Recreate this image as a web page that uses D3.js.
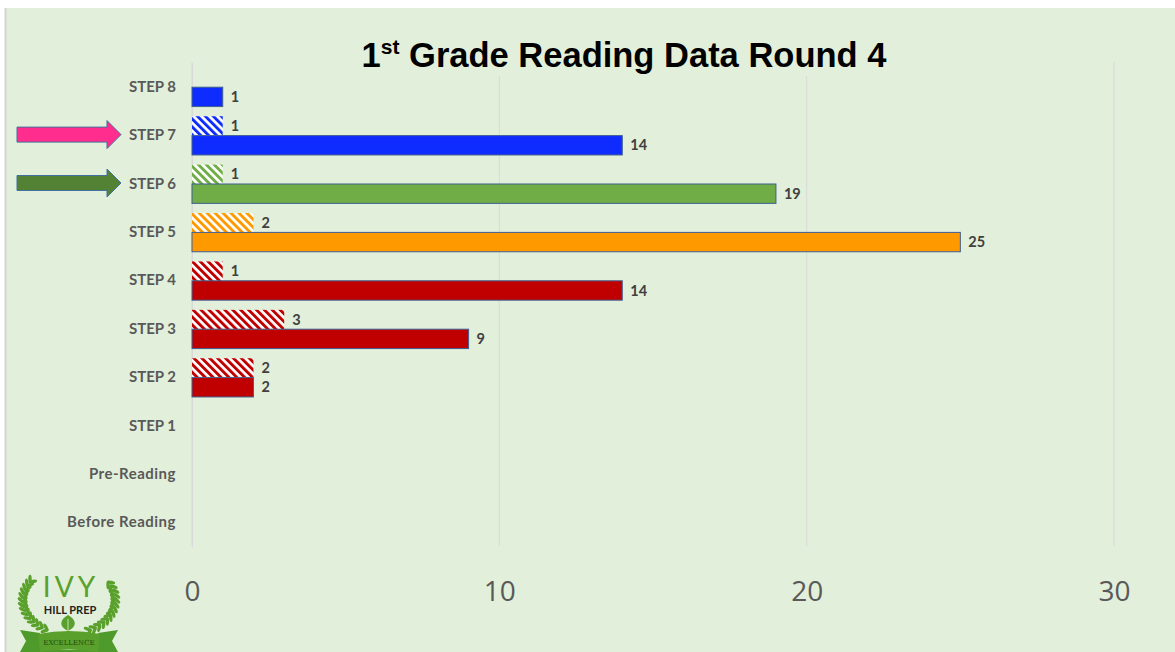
<!DOCTYPE html>
<html><head><meta charset="utf-8">
<script src="https://cdn.jsdelivr.net/npm/d3@7"></script>
<style>html,body{margin:0;padding:0;background:#fff;}svg{display:block;}</style>
</head><body>
<script>
const categories = ["STEP 8","STEP 7","STEP 6","STEP 5","STEP 4","STEP 3","STEP 2","STEP 1","Pre-Reading","Before Reading"];
const round4Values = [1,14,19,25,14,9,2,0,0,0];
const priorValues = [0,1,1,2,1,3,2,0,0,0];
const categoryColors = ["#0f2cff","#0f2cff","#70ad47","#ff9900","#c00000","#c00000","#c00000","#c00000","#c00000","#c00000"];
const xTicks = [0,10,20,30];
const arrowMarks = [{cat:"STEP 7", color:"#ff2e8e"},{cat:"STEP 6", color:"#548235"}];

const W = 1175, H = 652;
const svg = d3.select("body").append("svg").attr("width",W).attr("height",H);
const defs = svg.append("defs");

// background
svg.append("rect").attr("x",0).attr("y",0).attr("width",W).attr("height",H).attr("fill","#ffffff");
svg.append("rect").attr("x",5).attr("y",8).attr("width",W-5).attr("height",H-8).attr("fill","#e2efda");
svg.append("line").attr("x1",5.5).attr("x2",5.5).attr("y1",8).attr("y2",H).attr("stroke","#d4d4d4").attr("stroke-width",2);

const x = d3.scaleLinear().domain([0,30]).range([192,1114]);
const y = d3.scaleBand().domain(categories).range([63,547]);
const sub = d3.scaleBand().domain(["prior","round4"]).range([0,y.bandwidth()]).paddingInner(0).paddingOuter(0.25);

// hatch patterns
const uniqueColors = Array.from(new Set(categoryColors));
uniqueColors.forEach((c,i)=>{
  const p = defs.append("pattern").attr("id","hatch"+i).attr("patternUnits","userSpaceOnUse")
    .attr("width",5.6).attr("height",5.6).attr("patternTransform","rotate(-45)");
  p.append("rect").attr("width",5.6).attr("height",5.6).attr("fill","#ffffff");
  p.append("rect").attr("width",2.9).attr("height",5.6).attr("fill",c);
});
const hatchId = c => "url(#hatch"+uniqueColors.indexOf(c)+")";

// gridlines
const grid = svg.append("g");
grid.selectAll("line").data(xTicks).join("line")
  .attr("x1",d=>x(d)).attr("x2",d=>x(d)).attr("y1",62).attr("y2",546)
  .attr("stroke","#d9d9d9").attr("stroke-width",1);

// title (with background box)
svg.append("rect").attr("x",340).attr("y",34).attr("width",570).attr("height",42).attr("fill","#e2efda");
const title = svg.append("text").attr("x",624).attr("y",67).attr("text-anchor","middle")
  .attr("font-family","'Liberation Sans', Arial, sans-serif").attr("font-weight","bold").attr("font-size",34.5).attr("fill","#000");
title.append("tspan").text("1");
title.append("tspan").attr("font-size",21).attr("dy",-13).text("st");
title.append("tspan").attr("dy",13).text(" Grade Reading Data Round 4");

// x axis tick labels
const xAxis = d3.axisBottom(x).tickValues(xTicks).tickSize(0).tickFormat(d3.format("d"));
const gx = svg.append("g").attr("transform","translate(0,578)").call(xAxis);
gx.select(".domain").remove();
gx.selectAll("text").attr("font-family","'Open Sans', Lato, sans-serif").attr("font-size",28).attr("fill","#595959").attr("dy","0.71em");

// y axis labels
const yAxis = d3.axisLeft(y).tickSize(0).tickPadding(16);
const gy = svg.append("g").attr("transform","translate(192,0)").call(yAxis);
gy.select(".domain").attr("stroke","#d9d9d9");
gy.selectAll("text").attr("font-family","Lato, 'Open Sans', sans-serif").attr("font-weight","bold").attr("font-size",15).attr("fill","#595959").attr("dy","0.3em")
  .attr("letter-spacing",d=>d.length>8 ? "0.5px" : "0px");

// data rows
const rows = categories.map((c,i)=>({cat:c, cur:round4Values[i], prior:priorValues[i], color:categoryColors[i]}));
const bars = svg.append("g");
bars.selectAll("rect.prior").data(rows.filter(d=>d.prior>0)).join("rect").attr("class","prior")
  .attr("x",x(0)).attr("y",d=>y(d.cat)+sub("prior")).attr("width",d=>x(d.prior)-x(0)).attr("height",sub.bandwidth())
  .attr("fill",d=>hatchId(d.color));
bars.selectAll("rect.cur").data(rows.filter(d=>d.cur>0)).join("rect").attr("class","cur")
  .attr("x",x(0)).attr("y",d=>y(d.cat)+sub("round4")).attr("width",d=>x(d.cur)-x(0)).attr("height",sub.bandwidth())
  .attr("fill",d=>d.color).attr("stroke","#3f5f8f").attr("stroke-width",1);

const lab = svg.append("g").attr("font-family","Lato, 'Open Sans', sans-serif").attr("font-weight","bold").attr("font-size",14.5).attr("fill","#404040");
lab.selectAll("text.prior").data(rows.filter(d=>d.prior>0)).join("text").attr("class","prior")
  .attr("x",d=>x(d.prior)+8).attr("y",d=>y(d.cat)+sub("prior")+sub.bandwidth()/2).attr("dy","0.35em").text(d=>d.prior);
lab.selectAll("text.cur").data(rows.filter(d=>d.cur>0)).join("text").attr("class","cur")
  .attr("x",d=>x(d.cur)+8).attr("y",d=>y(d.cat)+sub("round4")+sub.bandwidth()/2).attr("dy","0.35em").text(d=>d.cur);

// arrows
arrowMarks.forEach(a=>{
  const cy = y(a.cat)+y.bandwidth()/2 - 1;
  const x0=17, xh=107, xt=121, bh=7.5, hh=14;
  const pts = [[x0,cy-bh],[xh,cy-bh],[xh,cy-hh],[xt,cy],[xh,cy+hh],[xh,cy+bh],[x0,cy+bh]];
  svg.append("polygon").attr("points",pts.map(p=>p.join(",")).join(" "))
    .attr("fill",a.color).attr("stroke","#41719c").attr("stroke-width",1);
});

// logo
const green = "#5aa02c";
const logo = svg.append("g");
const cx = 69, cyL = 600, rx = 46, ry = 34;
[[212,118],[-32,62]].forEach(([t0,t1])=>{
  const n = 14;
  for (let k=0;k<n;k++){
    const t = (t0 + (t1-t0)*k/(n-1)) * Math.PI/180;
    const px = cx + rx*Math.cos(t), py = cyL + ry*Math.sin(t);
    const tang = Math.atan2(ry*Math.cos(t), -rx*Math.sin(t)) * 180/Math.PI;
    [-1,1].forEach(s=>{
      logo.append("ellipse").attr("cx",px).attr("cy",py).attr("rx",4.2).attr("ry",1.7).attr("fill",green)
        .attr("transform",`rotate(${tang + s*40},${px},${py}) translate(3,0)`);
    });
  }
});
logo.append("text").attr("x",71).attr("y",597).attr("text-anchor","middle").attr("font-family","Lato,'Open Sans',sans-serif")
  .attr("font-size",28).attr("letter-spacing","4px").attr("fill",green).text("IVY");
logo.append("text").attr("x",70).attr("y",614).attr("text-anchor","middle").attr("font-family","Lato,'Open Sans',sans-serif")
  .attr("font-weight","bold").attr("font-size",11).attr("fill","#222").text("HILL PREP");
logo.append("path").attr("d","M68,631 C59,627 59,620 68,615 C77,620 77,627 68,631 Z").attr("fill",green);
logo.append("line").attr("x1",68).attr("x2",68).attr("y1",619).attr("y2",634).attr("stroke","#e2efda").attr("stroke-width",0.8);
logo.append("path").attr("d","M20,630 L40,633 L42,650 L96,650 L98,633 L118,630 L112,641 L118,652 L20,652 L26,641 Z").attr("fill","#4e9a2a");
logo.append("path").attr("d","M38,634 Q69,628 100,634 L98,652 Q69,647 40,652 Z").attr("fill",green);
logo.append("text").attr("x",69).attr("y",645).attr("text-anchor","middle").attr("font-family","'DejaVu Serif',serif")
  .attr("font-size",7).attr("fill","#1e4d0f").text("EXCELLENCE");
</script>
</body></html>
